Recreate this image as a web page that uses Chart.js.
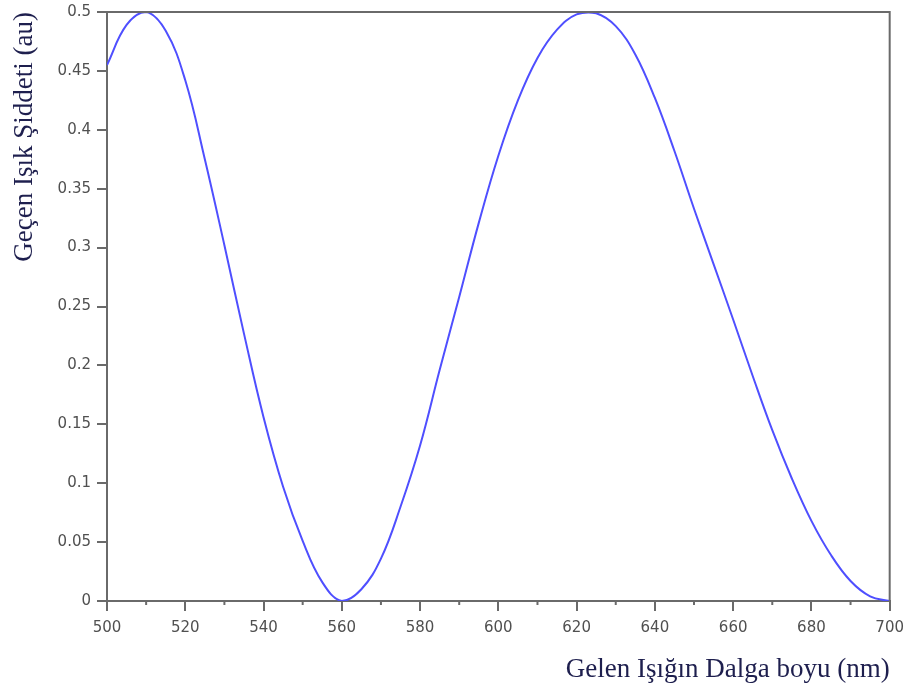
<!DOCTYPE html>
<html>
<head>
<meta charset="utf-8">
<script src="https://cdn.jsdelivr.net/npm/chart.js@4"></script>
<style>
  html, body { margin: 0; padding: 0; background: #fff; }
  #grafica { display: block; }
</style>
</head>
<body>
<canvas id="grafica" width="912" height="691"></canvas>
<script>
// dalga boyu (nm) ve gecen isik siddeti
const dalgaBoyu = [500, 505, 510, 515, 520, 525, 530, 535, 540, 545, 550, 555, 560, 565, 570, 575, 580, 585, 590, 595,
    600, 605, 610, 615, 620, 625, 630, 635, 640, 645, 650, 655, 660, 665, 670, 675, 680, 685, 690, 695, 700];
const siddet = [0.455, 0.489, 0.500, 0.484, 0.442, 0.375, 0.302, 0.227, 0.156, 0.097, 0.051, 0.016, 0.000, 0.010, 0.036, 0.080, 0.132, 0.196, 0.258, 0.321,
    0.378, 0.425, 0.461, 0.485, 0.498, 0.499, 0.488, 0.464, 0.427, 0.382, 0.333, 0.286, 0.239, 0.191, 0.145, 0.104, 0.068, 0.039, 0.017, 0.004, 0.000];
const xTicks = [500, 520, 540, 560, 580, 600, 620, 640, 660, 680, 700];
const xMinorTicks = [510, 530, 550, 570, 590, 610, 630, 650, 670, 690];

const eksenRengi = '#6a6a6a';
const yaziRengi = '#505050';
const baslikRengi = '#1e1f4e';

// ust ve sag cerceve + kucuk tikler
const cerceve = {
    id: 'cerceve',
    afterDraw(chart) {
        const { ctx, chartArea, scales } = chart;
        ctx.save();
        ctx.strokeStyle = eksenRengi;
        ctx.lineWidth = 2;
        ctx.beginPath();
        ctx.moveTo(chartArea.left, chartArea.top);
        ctx.lineTo(chartArea.right, chartArea.top);
        ctx.lineTo(chartArea.right, chartArea.bottom);
        ctx.stroke();
        xMinorTicks.forEach(v => {
            const px = scales.x.getPixelForValue(v);
            ctx.beginPath();
            ctx.moveTo(px, chartArea.bottom);
            ctx.lineTo(px, chartArea.bottom + 4);
            ctx.stroke();
        });
        ctx.restore();
    }
};

const ctx = document.getElementById('grafica').getContext('2d');
new Chart(ctx, {
    type: 'line',
    data: {
        labels: dalgaBoyu,
        datasets: [{
            data: dalgaBoyu.map((x, i) => ({ x: x, y: siddet[i] })),
            borderColor: '#4f4fff',
            borderWidth: 2,
            pointRadius: 0,
            fill: false,
            tension: 0.4
        }]
    },
    options: {
        responsive: false,
        animation: false,
        layout: { padding: { left: 0, right: 22, top: 12, bottom: 0 } },
        plugins: {
            legend: { display: false },
            tooltip: { enabled: false }
        },
        scales: {
            x: {
                type: 'linear',
                min: 500,
                max: 700,
                afterBuildTicks: s => { s.ticks = xTicks.map(v => ({ value: v })); },
                afterFit: s => { s.height = 90; },
                border: { color: eksenRengi, width: 2 },
                grid: { drawOnChartArea: false, color: eksenRengi, tickLength: 10, lineWidth: 2 },
                ticks: { color: yaziRengi, font: { family: 'DejaVu Sans', size: 15 }, padding: 8, maxRotation: 0 },
                title: {
                    display: true,
                    text: 'Gelen Işığın Dalga boyu (nm)',
                    align: 'end',
                    color: baslikRengi,
                    font: { family: 'Liberation Serif', size: 27 },
                    padding: { top: 0, bottom: 5 }
                }
            },
            y: {
                min: 0,
                max: 0.5,
                ticks: {
                    stepSize: 0.05,
                    color: yaziRengi,
                    font: { family: 'DejaVu Sans', size: 15 },
                    padding: 6,
                    callback: v => String(parseFloat(v.toFixed(2)))
                },
                afterFit: s => { s.width = 107; s.paddingTop = 0; },
                border: { color: eksenRengi, width: 2 },
                grid: { drawOnChartArea: false, color: eksenRengi, tickLength: 10, lineWidth: 2 },
                title: {
                    display: true,
                    text: 'Geçen Işık Şiddeti (au)',
                    align: 'end',
                    color: baslikRengi,
                    font: { family: 'Liberation Serif', size: 27 },
                    padding: { top: 9, bottom: 0 }
                }
            }
        }
    },
    plugins: [cerceve]
});
</script>
</body>
</html>
